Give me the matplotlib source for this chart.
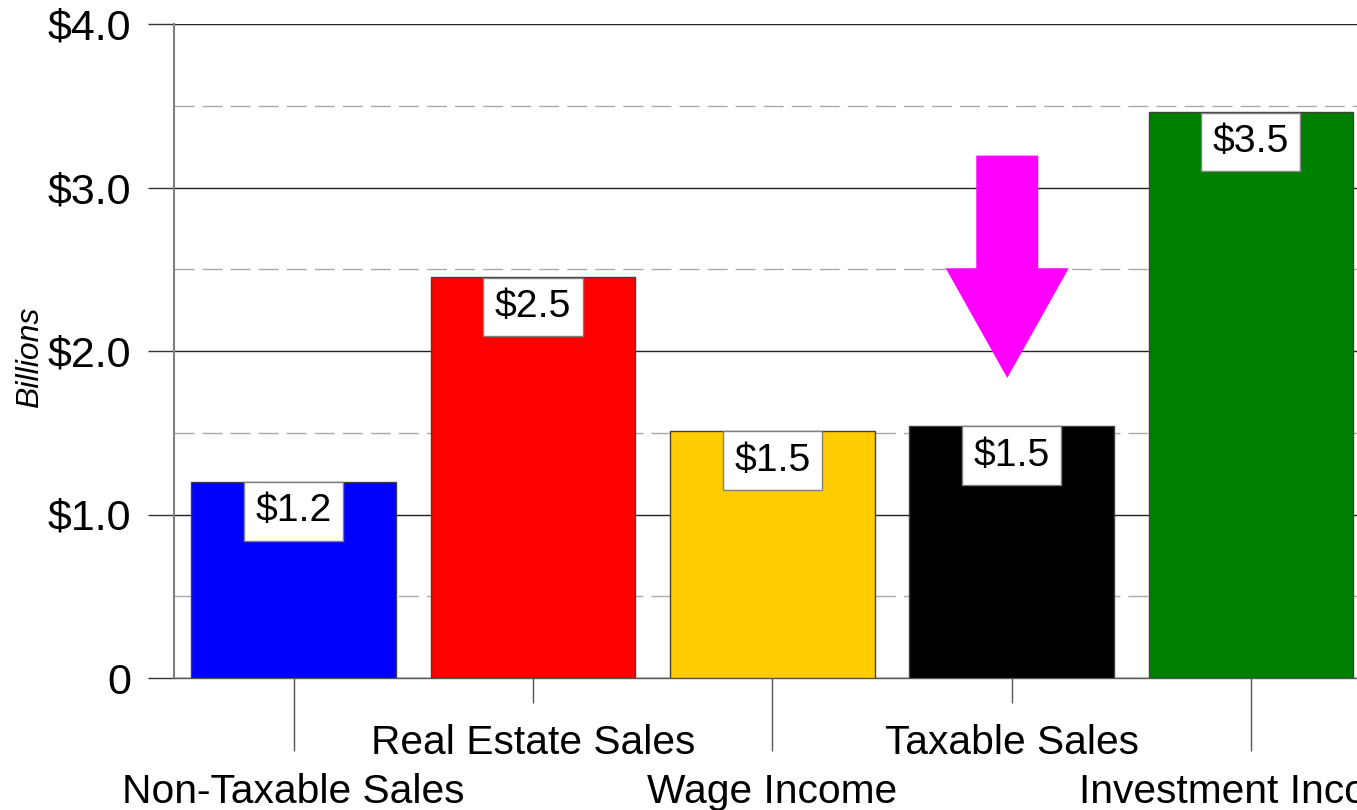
import matplotlib
matplotlib.use("Agg")
import matplotlib.pyplot as plt
from matplotlib.patches import FancyArrow
from matplotlib.ticker import FuncFormatter, MultipleLocator

categories = ["Non-Taxable Sales", "Real Estate Sales", "Wage Income", "Taxable Sales", "Investment Income"]
values = [1.2, 2.45, 1.51, 1.54, 3.46]
value_labels = ["$1.2", "$2.5", "$1.5", "$1.5", "$3.5"]
colors = ["#0000FF", "#FF0000", "#FFCC00", "#000000", "#008000"]

plt.rcParams['font.family'] = ['Liberation Sans', 'DejaVu Sans']

W, H = 1357, 810
fig = plt.figure(figsize=(W / 100, H / 100), dpi=100)
ax = fig.add_axes([174 / W, (H - 678) / H, 1196.5 / W, 654 / H])

x = list(range(len(categories)))
ax.bar(x, values, width=0.855, color=colors, edgecolor="#404040", linewidth=1, zorder=3)

ax.set_xlim(-0.5, 4.5)
ax.set_ylim(0, 4.0)

# grid
ax.yaxis.set_major_locator(MultipleLocator(1.0))
ax.yaxis.set_minor_locator(MultipleLocator(0.5))
ax.grid(axis="y", which="major", color="#222222", linewidth=1, linestyle="-", zorder=0)
ax.grid(axis="y", which="minor", color="#AAAAAA", linewidth=1, linestyle=(0, (14.4, 5.8)), zorder=0)
ax.set_axisbelow(True)

ax.yaxis.set_major_formatter(FuncFormatter(lambda v, p: "0" if v == 0 else f"${v:.1f}"))
ax.tick_params(axis="y", which="major", length=18.7, width=1, color="#333333",
               pad=12, labelsize=31)
ax.tick_params(axis="y", which="minor", length=0)

for s in ["top", "right"]:
    ax.spines[s].set_visible(False)
ax.spines["left"].set_color("#808080")
ax.spines["left"].set_linewidth(1.5)
ax.spines["bottom"].set_color("#555555")
ax.spines["bottom"].set_linewidth(1)

# x ticks with alternating lengths and staggered labels
ax.set_xticks(x)
ax.set_xticklabels([])
ax.tick_params(axis="x", color="#555555", width=1)
for i, t in enumerate(ax.xaxis.get_major_ticks()):
    t.tick1line.set_markersize(52.6 if i % 2 == 0 else 18)
for i, lab in enumerate(categories):
    off = -90 if i % 2 == 0 else -54.7
    ax.annotate(lab, xy=(i, 0), xycoords="data", xytext=(0, off), textcoords="offset points",
                ha="center", va="baseline", fontsize=29.3, annotation_clip=False)

# value labels
for i, (v, lab) in enumerate(zip(values, value_labels)):
    ax.annotate(lab, xy=(i, v), xytext=(0, -8.4), textcoords="offset points",
                ha="center", va="top", fontsize=28.3, zorder=5,
                bbox=dict(boxstyle="square,pad=0.29", facecolor="white", edgecolor="#808080", linewidth=1))

ax.set_ylabel("Billions", fontsize=23, style="italic")
ax.yaxis.set_label_coords(-0.108, 0.49)

# magenta arrow
ax.add_patch(FancyArrow(2.982, 3.195, 0, 1.835 - 3.195, width=0.259, head_width=0.514,
                        head_length=2.506 - 1.835, length_includes_head=True,
                        facecolor="#FF00FF", edgecolor="none", zorder=4))

fig.savefig("out.png", dpi=100)
